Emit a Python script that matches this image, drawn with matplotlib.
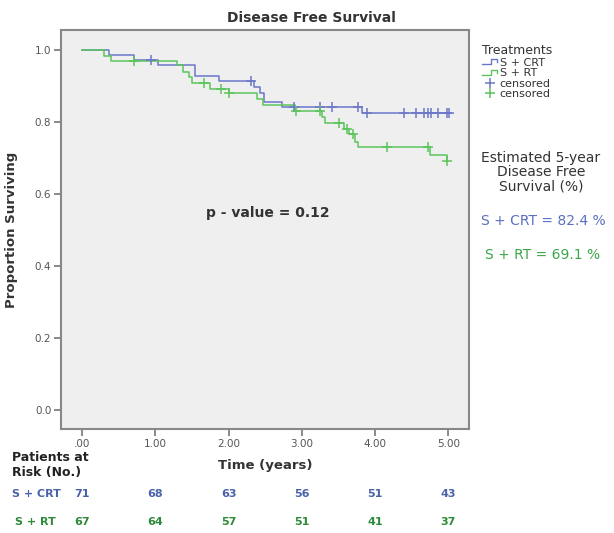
import numpy as np
import matplotlib.pyplot as plt
from matplotlib.lines import Line2D
from matplotlib.legend_handler import HandlerBase

# Kaplan-Meier steps (time in years, proportion surviving after each event)
crt_times = [0, 0.37, 0.71, 1.03, 1.54, 1.87, 2.35, 2.43, 2.48, 2.73, 3.82]
crt_surv = [1.0, 0.986, 0.972, 0.958, 0.929, 0.914, 0.898, 0.880, 0.855, 0.841, 0.824]
crt_end = 5.02
crt_censored = [0.94, 2.30, 2.89, 3.25, 3.41, 3.77, 3.89, 4.39, 4.56, 4.67,
                4.72, 4.76, 4.86, 4.98, 5.01]

rt_times = [0, 0.30, 0.39, 1.30, 1.37, 1.46, 1.50, 1.75, 2.00, 2.39, 2.47,
            2.90, 3.27, 3.32, 3.57, 3.64, 3.73, 3.76, 4.75, 4.98]
rt_surv = [1.0, 0.984, 0.970, 0.958, 0.940, 0.926, 0.909, 0.893, 0.880, 0.863,
           0.847, 0.831, 0.815, 0.798, 0.782, 0.767, 0.745, 0.730, 0.708, 0.691]
rt_end = 4.98
rt_censored = [0.71, 1.66, 1.89, 2.00, 2.92, 3.25, 3.50, 3.61, 3.69, 4.16, 4.72, 4.98]

# patients at risk table
risk_times = [0, 1, 2, 3, 4, 5]
risk_crt = [71, 68, 63, 56, 51, 43]
risk_rt = [67, 64, 57, 51, 41, 37]

x_ticks = [0, 1, 2, 3, 4, 5]
x_ticklabels = [".00", "1.00", "2.00", "3.00", "4.00", "5.00"]
y_ticks = [0.0, 0.2, 0.4, 0.6, 0.8, 1.0]

blue_line = "#6b78c8"
green_line = "#5cc45c"
blue_text = "#4a62a8"
green_text = "#2f8a3a"
blue_note = "#5a6fc0"
green_note = "#3aa64a"
grey = "#555555"
dark = "#333333"

plt.rcParams["font.family"] = "DejaVu Sans"


def surv_at(times, surv, t):
    idx = np.searchsorted(times, t, side="right") - 1
    return np.array(surv)[idx]


class StepHandler(HandlerBase):
    # small step-shaped glyph for the survival curves in the legend
    def create_artists(self, legend, orig_handle, xdescent, ydescent,
                       width, height, fontsize, trans):
        xs = np.array([0, 0.55, 0.55, 0.92, 0.92]) * width - xdescent
        ys = np.array([0.2, 0.2, 0.8, 0.8, 0.45]) * height - ydescent
        ln = Line2D(xs, ys, color=orig_handle.get_color(), lw=1.0, transform=trans)
        return [ln]


fig = plt.figure(figsize=(6.14, 5.33), dpi=100)
ax = fig.add_axes([61 / 614, 1 - 429 / 533, 408 / 614, 399 / 533])
ax.set_facecolor("#efefef")

l1, = ax.step(crt_times + [crt_end], crt_surv + [crt_surv[-1]], where="post",
              color=blue_line, lw=1.1)
l2, = ax.step(rt_times + [rt_end], rt_surv + [rt_surv[-1]], where="post",
              color=green_line, lw=1.1)
c1, = ax.plot(crt_censored, surv_at(crt_times, crt_surv, crt_censored), "+",
              color=blue_line, ms=6.5, mew=1.1, ls="none")
c2, = ax.plot(rt_censored, surv_at(rt_times, rt_surv, rt_censored), "+",
              color=green_line, ms=6.5, mew=1.1, ls="none")

ax.set_xlim(-0.29, 5.28)
ax.set_ylim(-0.053, 1.056)
ax.set_xticks(x_ticks)
ax.set_xticklabels(x_ticklabels)
ax.set_yticks(y_ticks)
ax.set_yticklabels([f"{v:.1f}" for v in y_ticks])
ax.tick_params(direction="out", length=5, width=1.2, color="#777777",
               labelcolor=grey, labelsize=7.5, pad=2)
for s in ax.spines.values():
    s.set_color("#888888")
    s.set_linewidth(1.5)

fig.text(311 / 614, 1 - 18 / 533, "Disease Free Survival", ha="center", va="center",
         fontsize=10, fontweight="bold", color=dark)
ax.set_ylabel("Proportion Surviving", fontsize=9.5, fontweight="bold",
              color=dark, labelpad=12)
fig.text(265 / 614, 1 - 465 / 533, "Time (years)", ha="center", va="center",
         fontsize=9.5, fontweight="bold", color=dark)
fig.text(268 / 614, 1 - 213 / 533, "p - value = 0.12", ha="center", va="center",
         fontsize=10, fontweight="bold", color=dark)

leg = fig.legend([l1, l2, c1, c2], ["S + CRT", "S + RT", "censored", "censored"],
                 loc="upper left", bbox_to_anchor=(472 / 614, 1 - 34 / 533),
                 frameon=False, title="Treatments", fontsize=8, title_fontsize=9,
                 handlelength=1.5, handletextpad=0.1, labelspacing=0.05,
                 alignment="left", handler_map={l1: StepHandler(), l2: StepHandler()})
leg.get_title().set_color(dark)
for t in leg.get_texts():
    t.set_color(dark)

fig.text(541 / 614, 1 - 172 / 533, "Estimated 5-year\nDisease Free\nSurvival (%)",
         ha="center", va="center", fontsize=10, color=dark, linespacing=1.0)
fig.text(543 / 614, 1 - 221 / 533, "S + CRT = 82.4 %", ha="center", va="center",
         fontsize=10, color=blue_note)
fig.text(543 / 614, 1 - 255 / 533, "S + RT = 69.1 %", ha="center", va="center",
         fontsize=10, color=green_note)

# at-risk table below the axis
fig.text(12 / 614, 1 - 465 / 533, "Patients at\nRisk (No.)", ha="left", va="center",
         fontsize=9, fontweight="bold", color="#222222", linespacing=1.15)
fig.text(12 / 614, 1 - 494 / 533, "S + CRT", ha="left", va="center",
         fontsize=8, fontweight="bold", color=blue_text)
fig.text(15 / 614, 1 - 522 / 533, "S + RT", ha="left", va="center",
         fontsize=8, fontweight="bold", color=green_text)
for t, n1, n2 in zip(risk_times, risk_crt, risk_rt):
    x_fig = fig.transFigure.inverted().transform(ax.transData.transform((t, 0)))[0]
    fig.text(x_fig, 1 - 494 / 533, str(n1), ha="center", va="center",
             fontsize=8, fontweight="bold", color=blue_text)
    fig.text(x_fig, 1 - 522 / 533, str(n2), ha="center", va="center",
             fontsize=8, fontweight="bold", color=green_text)

fig.savefig("out.png", dpi=100)
